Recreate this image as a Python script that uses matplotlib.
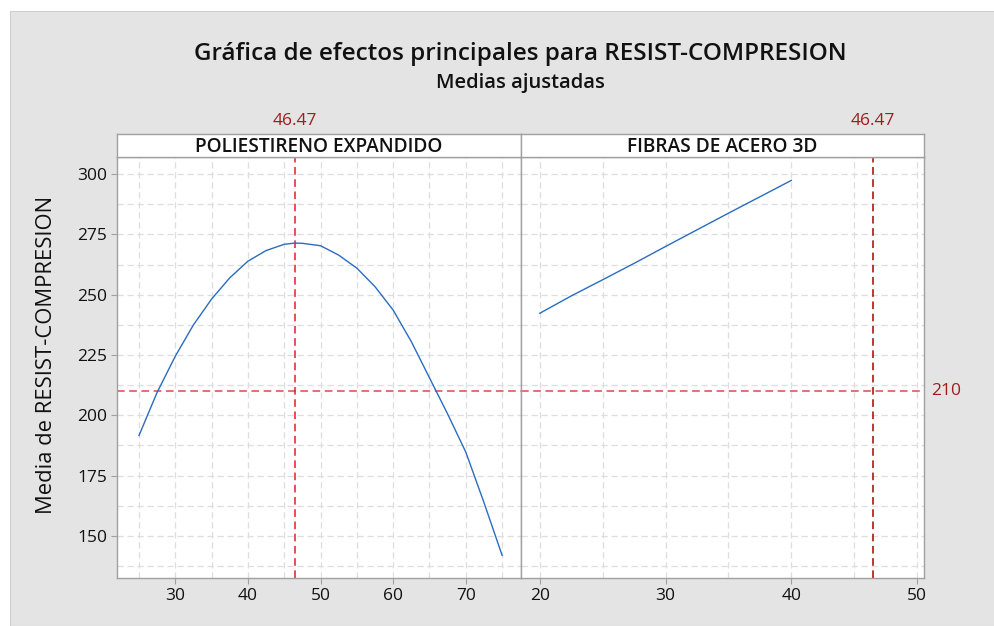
import numpy as np
import matplotlib
matplotlib.use("Agg")
import matplotlib.pyplot as plt
from matplotlib.patches import Rectangle
from matplotlib.ticker import MultipleLocator

plt.rcParams['font.family'] = ['Open Sans', 'DejaVu Sans']

# ---------------------------
# Data
# ---------------------------
title = "Gráfica de efectos principales para RESIST-COMPRESION"
subtitle = "Medias ajustadas"
ylabel = "Media de RESIST-COMPRESION"
panel_names = ["POLIESTIRENO EXPANDIDO", "FIBRAS DE ACERO 3D"]

poli_x = [25, 27.5, 30, 32.5, 35, 37.5, 40, 42.5, 45, 46.47, 47.5, 50,
          52.5, 55, 57.5, 60, 62.5, 65, 67.5, 70, 72.5, 75]
poli_y = [191.6, 209.5, 224.5, 237.5, 248.2, 257.0, 263.9, 268.3, 270.9,
          271.4, 271.3, 270.3, 266.4, 261.0, 253.3, 243.6, 230.5, 215.5,
          200.5, 184.7, 163.8, 141.9]

fibra_x = [20, 22.5, 25, 27.5, 30, 32.5, 35, 37.5, 40]
fibra_y = [242.3, 249.5, 256.2, 263.0, 270.0, 276.9, 283.8, 290.6, 297.4]

opt_x = 46.47      # optimum marker (vertical reference)
target_y = 210     # horizontal reference

W, H = 994, 626
fig = plt.figure(figsize=(W / 100, H / 100), dpi=100, facecolor='white')

# gray frame background (white border at top and left)
fig.patches.append(Rectangle((10 / W, 0), 1, 1 - 11 / H, transform=fig.transFigure,
                             facecolor='#e4e4e4', edgecolor='#cfcfcf', lw=0.8, zorder=-10))


def px_axes(x0, x1, y0, y1):
    return fig.add_axes([x0 / W, 1 - y1 / H, (x1 - x0) / W, (y1 - y0) / H])


fig.text(520 / W, 1 - 54 / H, title, ha='center', va='center',
         fontsize=17.5, fontweight='semibold', color='#111111')
fig.text(520 / W, 1 - 83 / H, subtitle, ha='center', va='center',
         fontsize=14.5, fontweight='semibold', color='#111111')
fig.text(47 / W, 1 - 355 / H, ylabel, ha='center', va='center', rotation=90,
         fontsize=15.8, color='#111111')

line_col = '#2a6cc0'
grid_col = '#dedede'
spine_col = '#a0a0a0'

specs = [
    (117, 521, (21.97, 77.6), poli_x, poli_y, '#e02020', range(30, 71, 10)),
    (521, 924, (18.5, 50.55), fibra_x, fibra_y, '#a80000', range(20, 51, 10)),
]

axes = []
for i, (x0, x1, xlim, xs, ys, vcol, xticks) in enumerate(specs):
    ax = px_axes(x0, x1, 157, 578)
    ax.plot(xs, ys, color=line_col, lw=1.0, zorder=3)
    ax.set_xlim(*xlim)
    ax.set_ylim(132.5, 307.1)
    ax.set_xticks(list(xticks))
    ax.xaxis.set_minor_locator(MultipleLocator(5))
    ax.set_yticks([150, 175, 200, 225, 250, 275, 300])
    ax.yaxis.set_minor_locator(MultipleLocator(12.5))
    ax.grid(which='both', color=grid_col, ls=(0, (5, 3)), lw=0.9)
    ax.set_axisbelow(True)
    ax.tick_params(which='minor', length=0)
    ax.tick_params(which='major', length=4, width=0.8, color=spine_col,
                   labelsize=12.5, labelcolor='#111111', pad=3)
    if i > 0:
        ax.tick_params(axis='y', left=False, labelleft=False)
    for s in ax.spines.values():
        s.set_color(spine_col)
        s.set_linewidth(1.0)
    ax.axhline(target_y, color='#e04848', ls=(0, (5, 3)), lw=1.1, zorder=2)
    ax.axvline(opt_x, color=vcol, ls=(0, (5, 3)), lw=1.1, zorder=2)
    ax.text(opt_x, 1.085, f"{opt_x:.2f}", transform=ax.get_xaxis_transform(),
            ha='center', va='center', fontsize=12.5, color='#a01c1c')

    # header strip
    hx = px_axes(x0, x1, 134, 157)
    hx.set_xticks([])
    hx.set_yticks([])
    hx.set_facecolor('white')
    for s in hx.spines.values():
        s.set_color(spine_col)
        s.set_linewidth(1.0)
    hx.text(0.5, 0.45, panel_names[i], ha='center', va='center',
            fontsize=13.8, fontweight='semibold', color='#111111',
            transform=hx.transAxes)
    axes.append(ax)

axes[1].text(1.018, target_y, str(target_y), transform=axes[1].get_yaxis_transform(),
             ha='left', va='center', fontsize=12.5, color='#a01c1c')

fig.savefig("out.png", dpi=100, facecolor=fig.get_facecolor())
